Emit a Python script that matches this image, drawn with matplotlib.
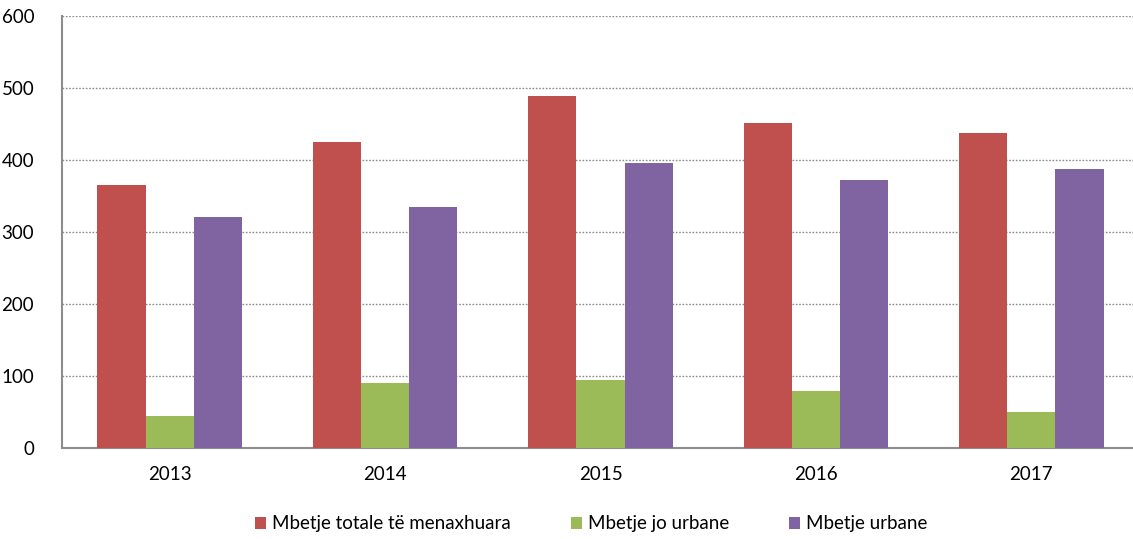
import numpy as np
import matplotlib.pyplot as plt

# --- data
years = ["2013", "2014", "2015", "2016", "2017"]
totale = [365, 425, 489, 451, 437]
jo_urbane = [44, 90, 94, 79, 50]
urbane = [321, 335, 396, 372, 387]

labels = ["Mbetje totale të menaxhuara", "Mbetje jo urbane", "Mbetje urbane"]
colors = ["#C0504D", "#9BBB59", "#8064A2"]

plt.rcParams['font.family'] = ['Lato', 'DejaVu Sans']

fig = plt.figure(figsize=(11.33, 5.39), dpi=100)
ax = fig.add_axes([62 / 1133, (539 - 448) / 539, 1077 / 1133, 432 / 539])

x = np.arange(len(years))
w = 0.224
for k, (vals, lab, col) in enumerate(zip([totale, jo_urbane, urbane], labels, colors)):
    ax.bar(x + (k - 1) * w, vals, w, color=col, label=lab, zorder=3)

ax.set_xlim(-0.5, len(years) - 0.5)
ax.set_ylim(0, 600)
ax.set_yticks(range(0, 601, 100))
ax.set_xticks(x)
ax.set_xticklabels(years)

ax.yaxis.grid(True, linestyle=(0, (1.2, 1.2)), color="#8C8C8C", linewidth=1.0, zorder=0)
ax.tick_params(axis='both', length=0, labelsize=13.5, colors="#000000")
ax.tick_params(axis='x', pad=13)
ax.tick_params(axis='y', pad=20)

for s in ["top", "right"]:
    ax.spines[s].set_visible(False)
for s in ["left", "bottom"]:
    ax.spines[s].set_color("#8C8C8C")
    ax.spines[s].set_linewidth(1.5)

leg = fig.legend(loc="center", bbox_to_anchor=(591 / 1133, 1 - 524 / 539), ncol=3,
                 frameon=False, fontsize=13.5, handlelength=0.6, handleheight=0.6,
                 handletextpad=0.3, columnspacing=3.2)

plt.savefig("out.png", dpi=100)
